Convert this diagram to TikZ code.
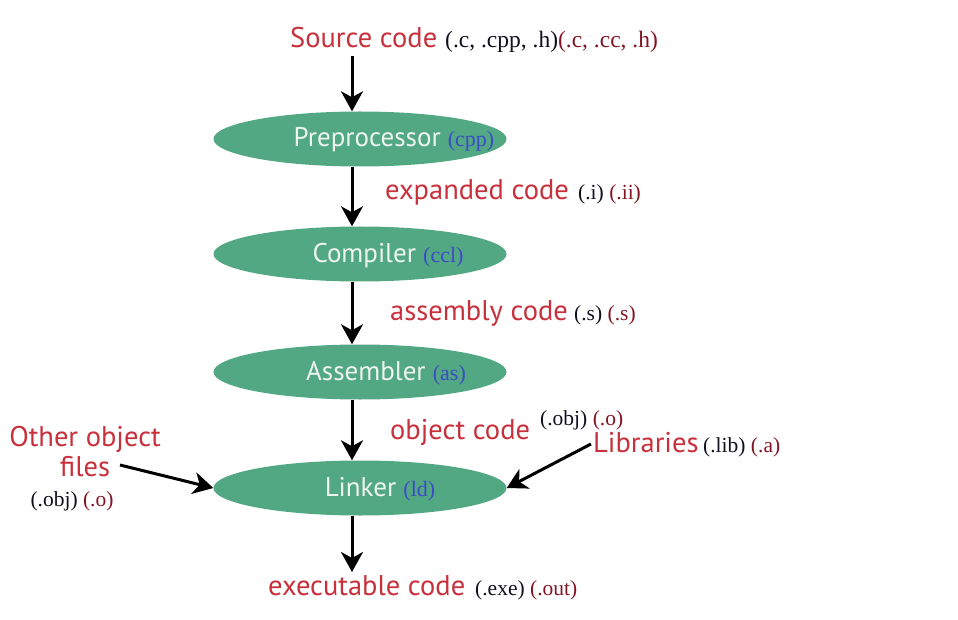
\documentclass[tikz,border=0pt]{standalone}
\usepackage{fontspec}
\setmainfont{Liberation Serif}
\newfontfamily\lblfont{PT Sans}
\usetikzlibrary{arrows.meta,shapes.geometric}
\definecolor{boxgreen}{RGB}{82,168,131}
\definecolor{lblred}{RGB}{200,48,60}
\definecolor{extred}{RGB}{130,20,35}
\definecolor{extblk}{RGB}{15,15,30}
\definecolor{extblue}{RGB}{60,75,200}
\definecolor{txtwhite}{RGB}{238,245,240}
\newcommand{\blu}[1]{{\fontspec{Liberation Serif}\fontsize{22}{24}\selectfont\color{extblue}#1}}
\tikzset{
  stage/.style={ellipse, fill=boxgreen, draw=none, minimum width=293pt, minimum height=55pt, inner sep=0pt},
  stagetxt/.style={font=\lblfont\fontsize{27}{29}\selectfont, text=txtwhite, inner sep=0pt, anchor=base},
  redlbl/.style={font=\lblfont\fontsize{28.5}{30}\selectfont, text=lblred, inner sep=0pt, anchor=base west},
  ext/.style={font=\fontsize{21.5}{23}\selectfont, inner sep=0pt, anchor=base west},
  flow/.style={-{Stealth[length=20pt,width=22pt,inset=6pt]}, line width=3pt, black},
}
\begin{document}
\begin{tikzpicture}[x=1pt,y=-1pt]
\useasboundingbox (0,0) rectangle (958,620);
% stages
\node[stage] (pre) at (360,139) {};
\node[stage] (comp) at (360,254) {};
\node[stage] (asm) at (360,372) {};
\node[stage] (link) at (360,488) {};
\node[stagetxt] (pret) at (394,147) {Preprocessor \blu{(cpp)}};
\node[stagetxt] (compt) at (388,262) {Compiler \blu{(ccl)}};
\node[stagetxt] (asmt) at (386,380) {Assembler \blu{(as)}};
\node[stagetxt] (linkt) at (380,496) {Linker \blu{(ld)}};
% labels
\node[redlbl] (src) at (290,48) {Source code};
\node[ext, font=\fontsize{23.5}{25}\selectfont] (srcx) at (445,48) {\color{extblk}(.c, .cpp, .h)\color{extred}(.c, .cc, .h)};
\node[redlbl] (expd) at (385,200) {expanded code};
\node[ext] (expdx) at (578,200) {\color{extblk}(.i) \color{extred}(.ii)};
\node[redlbl] (asmc) at (390,320) {assembly code};
\node[ext] (asmcx) at (574,320) {\color{extblk}(.s) \color{extred}(.s)};
\node[redlbl] (objc) at (390,439) {object code};
\node[ext] (objcx) at (540,425) {\color{extblk}(.obj) \color{extred}(.o)};
\node[redlbl] (libs) at (593,452) {Libraries};
\node[ext] (libsx) at (703,452) {\color{extblk}(.lib) \color{extred}(.a)};
\node[font=\lblfont\fontsize{28.5}{30}\selectfont, text=lblred, inner sep=0pt, align=center] (other) at (85,452) {Other object\\files};
\node[ext, anchor=base] (otherx) at (72,506) {\color{extblk}(.obj) \color{extred}(.o)};
\node[redlbl] (exe) at (268,595) {executable code};
\node[ext] (exex) at (475,595) {\color{extblk}(.exe) \color{extred}(.out)};
% connectors
\coordinate (s0) at (352,56);
\draw[flow] (s0) -- (pre.north -| s0);
\draw[flow] (pre.south -| s0) -- (comp.north -| s0);
\draw[flow] (comp.south -| s0) -- (asm.north -| s0);
\draw[flow] (asm.south -| s0) -- (link.north -| s0);
\coordinate (exe0) at (352,572);
\draw[flow] (link.south -| s0) -- (exe0);
\coordinate (lib0) at (591,444);
\draw[flow] (lib0) -- (link.east);
\coordinate (oth0) at (120,465);
\draw[flow] (oth0) -- (link.west);
\end{tikzpicture}
\end{document}
